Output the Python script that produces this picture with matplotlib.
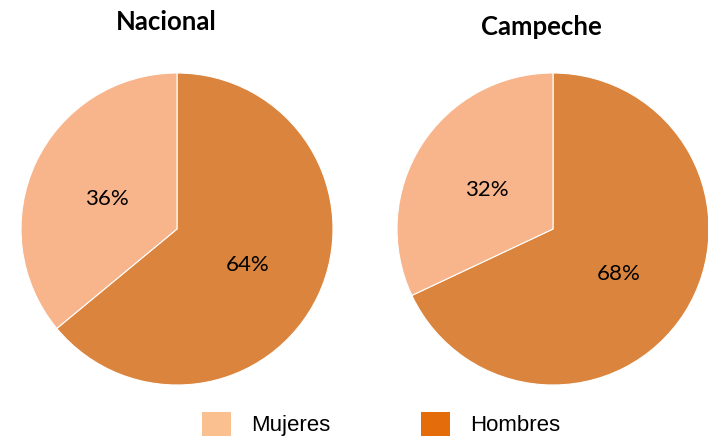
import matplotlib
matplotlib.use("Agg")
import matplotlib.pyplot as plt
from matplotlib.patches import Patch
from matplotlib import font_manager

categories = ["Mujeres", "Hombres"]
nacional = [36, 64]
campeche = [32, 68]
titles = ["Nacional", "Campeche"]

pie_colors = ["#F8B48B", "#DA843D"]
legend_colors = ["#FAC090", "#E46C0A"]

W, H = 708, 442
fig = plt.figure(figsize=(W / 100, H / 100), dpi=100)

avail = {f.name for f in font_manager.fontManager.ttflist}
leg_font = "Liberation Sans Narrow" if "Liberation Sans Narrow" in avail else "Liberation Sans"

def add_pie(cx, cy, r, values, title, tx, ty):
    ax = fig.add_axes([(cx - r) / W, (H - cy - r) / H, 2 * r / W, 2 * r / H])
    _, _, autotexts = ax.pie(values[::-1], colors=pie_colors[::-1], startangle=90,
                             counterclock=False, autopct="%d%%", pctdistance=0.5, radius=1,
                             wedgeprops=dict(edgecolor="white", linewidth=0.8),
                             textprops=dict(fontsize=16, family="Lato", color="black"))
    for t in autotexts:
        x, y = t.get_position()
        t.set_position((x, y - 3 / r))
    ax.set_xlim(-1, 1)
    ax.set_ylim(-1, 1)
    ax.set_aspect("equal")
    ax.axis("off")
    fig.text(tx / W, 1 - ty / H, title, ha="center", va="center",
             fontsize=18.5, fontweight="bold", family="Lato")

add_pie(177, 229, 156, nacional, titles[0], 166, 22)
add_pie(553, 229, 156, campeche, titles[1], 541, 27)

handles = [Patch(facecolor=c, edgecolor="none") for c in legend_colors]
fig.legend(handles, categories, loc="center", bbox_to_anchor=(381 / W, 1 - 424 / H),
           ncol=2, frameon=False, prop=dict(family=leg_font, size=16),
           handlelength=1.3, handleheight=1.35, handletextpad=0.9, columnspacing=4.1)

fig.savefig("out.png", dpi=100)
